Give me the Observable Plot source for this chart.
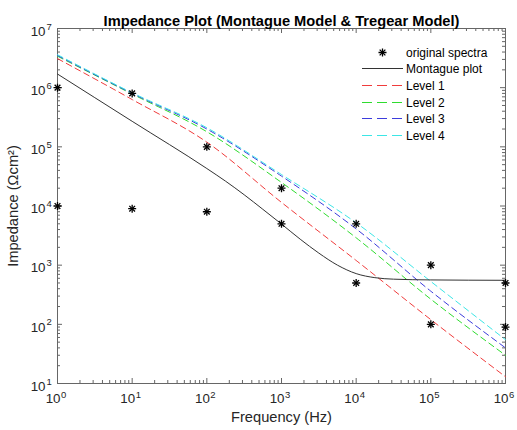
<!DOCTYPE html>
<html><head><meta charset="utf-8">
<script src="https://cdn.jsdelivr.net/npm/d3@7"></script>
<script src="https://cdn.jsdelivr.net/npm/@observablehq/plot@0.6"></script>
<style>body{margin:0;background:#fff} #chart{width:517px;height:430px}</style>
</head><body><div id="chart"></div>
<script>
// ---- data ----
const specFreq = [1, 1, 10, 10, 100, 100, 1000, 1000, 1e4, 1e4, 1e5, 1e5, 1e6, 1e6];
const specZ    = [1e6, 1e4, 8e5, 9e3, 1e5, 8e3, 2e4, 5e3, 5e3, 500, 1000, 100, 500, 90];

const montFreq = [1, 10, 100, 178, 316, 562, 1000, 1780, 3160, 5620, 1e4, 1.78e4, 3.16e4, 1e5, 1e6];
const montZ    = [1.7e6, 2.7e5, 4.3e4, 2.63e4, 1.55e4, 8.8e3, 4.95e3, 2.75e3, 1.6e3, 1.0e3, 720, 615, 580, 563, 555];

const levelFreq = [1, 10, 100, 1000, 1e4, 1e5, 1e6];
const level1 = [3.1e6, 6.3e5, 1.2e5, 1.15e4, 1.2e3, 120, 13];
const level2 = [3.4e6, 7.8e5, 1.8e5, 2.5e4, 2.9e3, 266, 30];
const level3 = [3.5e6, 8.0e5, 2.0e5, 3.2e4, 4.1e3, 363, 40];
const level4 = [3.6e6, 8.2e5, 2.1e5, 3.4e4, 5.2e3, 530, 55];
const levelNames = ["Level 1", "Level 2", "Level 3", "Level 4"];
const levelColors = ["#f03c3c", "#2fdc2f", "#3c3cdc", "#3ce6e6"];

const xTicks = [1, 10, 100, 1000, 1e4, 1e5, 1e6];
const xExps = ["0", "1", "2", "3", "4", "5", "6"];
const yTicks = [10, 100, 1000, 1e4, 1e5, 1e6, 1e7];
const yExps = ["1", "2", "3", "4", "5", "6", "7"];
const minorMult = [2, 3, 4, 5, 6, 7, 8, 9];

const legendLabels = ["original spectra", "Montague plot", "Level 1", "Level 2", "Level 3", "Level 4"];
const titleText = "Impedance Plot (Montague Model & Tregear Model)";
const xLabel = "Frequency (Hz)";
const yLabel = "Impedance (\u03A9cm\u00B2)";

// ---- layout ----
const W = 517, H = 430, mL = 57, mR = 12, mT = 28, mB = 47;
const fw = W - mL - mR, fh = H - mT - mB;
const axisColor = "#666";
const textColor = "#262626";
const FONT = "'Liberation Sans', Arial, sans-serif";

const spectra = specFreq.map((f, i) => ({f, z: specZ[i]}));
const mont = montFreq.map((f, i) => ({f, z: montZ[i]}));
const levels = [level1, level2, level3, level4].map(vals => levelFreq.map((f, j) => ({f, z: vals[j]})));
const xMinor = xTicks.slice(0, -1).flatMap(t => minorMult.map(m => m * t));
const yMinor = yTicks.slice(0, -1).flatMap(t => minorMult.map(m => m * t));

const marks = [
  Plot.frame({stroke: axisColor, strokeWidth: 1}),
  // major/minor ticks (inward, all four sides)
  Plot.tickX(xTicks, {x: d => d, insetTop: fh - 5, stroke: axisColor}),
  Plot.tickX(xTicks, {x: d => d, insetBottom: fh - 5, stroke: axisColor}),
  Plot.tickX(xMinor, {x: d => d, insetTop: fh - 3, stroke: axisColor}),
  Plot.tickX(xMinor, {x: d => d, insetBottom: fh - 3, stroke: axisColor}),
  Plot.tickY(yTicks, {y: d => d, insetRight: fw - 5, stroke: axisColor}),
  Plot.tickY(yTicks, {y: d => d, insetLeft: fw - 5, stroke: axisColor}),
  Plot.tickY(yMinor, {y: d => d, insetRight: fw - 3, stroke: axisColor}),
  Plot.tickY(yMinor, {y: d => d, insetLeft: fw - 3, stroke: axisColor}),
  // tick labels
  Plot.text(xTicks, {x: d => d, frameAnchor: "bottom", dy: 19, dx: 3, text: () => "10", textAnchor: "end", fontSize: 13.33, fill: textColor}),
  Plot.text(xTicks, {x: d => d, frameAnchor: "bottom", dy: 14, dx: 3.5, text: (d, i) => xExps[i], textAnchor: "start", fontSize: 9.5, fill: textColor}),
  Plot.text(yTicks, {y: d => d, frameAnchor: "left", dx: -12, dy: 3, text: () => "10", textAnchor: "end", fontSize: 13.33, fill: textColor}),
  Plot.text(yTicks, {y: d => d, frameAnchor: "left", dx: -11, dy: -2, text: (d, i) => yExps[i], textAnchor: "start", fontSize: 9.5, fill: textColor}),
  // titles
  Plot.text([titleText], {frameAnchor: "top", dy: -12.5, fontSize: 14.67, fontWeight: "bold", fill: "#000", textAnchor: "middle"}),
  Plot.text([xLabel], {frameAnchor: "bottom", dy: 38.5, fontSize: 14.67, fill: textColor, textAnchor: "middle"}),
  Plot.text([yLabel], {frameAnchor: "left", dx: -44.5, rotate: -90, fontSize: 14.67, fill: textColor, textAnchor: "middle"}),
  // data
  ...levels.map((lv, i) => Plot.line(lv, {x: "f", y: "z", stroke: levelColors[i], strokeWidth: 1, strokeDasharray: "6,4", curve: "monotone-x"})),
  Plot.line(mont, {x: "f", y: "z", stroke: "#333", strokeWidth: 1, curve: "monotone-x"}),
  Plot.dot(spectra, {x: "f", y: "z", symbol: "plus", r: 2.7, stroke: "#000", strokeWidth: 1.3}),
  Plot.dot(spectra, {x: "f", y: "z", symbol: "times", r: 2.7, stroke: "#000", strokeWidth: 1.3})
];

const svg = Plot.plot({
  width: W, height: H,
  marginLeft: mL, marginRight: mR, marginTop: mT, marginBottom: mB,
  x: {type: "log", domain: [1, 1e6], axis: null},
  y: {type: "log", domain: [10, 1e7], axis: null},
  style: {fontFamily: FONT, background: "white", overflow: "visible"},
  marks
});

// legend (no box), drawn into the same SVG
const lg = d3.select(svg).append("g")
  .attr("font-family", FONT).attr("font-size", 12).attr("text-anchor", "start");
const styles = [
  {marker: true},
  {stroke: "#333", dash: null},
  ...levelColors.map(c => ({stroke: c, dash: "10,5"}))
];
legendLabels.forEach((lab, i) => {
  const yy = Math.round(51.5 + i * 16.7) + 0.5;
  const s = styles[i];
  if (s.marker) {
    lg.append("path").attr("d", d3.symbol(d3.symbolPlus, 23)()).attr("transform", `translate(382.5,${yy})`).attr("stroke", "#000").attr("stroke-width", 1.3).attr("fill", "none");
    lg.append("path").attr("d", d3.symbol(d3.symbolTimes, 23)()).attr("transform", `translate(382.5,${yy})`).attr("stroke", "#000").attr("stroke-width", 1.3).attr("fill", "none");
  } else {
    const ln = lg.append("line").attr("x1", 362).attr("x2", 403).attr("y1", yy).attr("y2", yy).attr("stroke", s.stroke).attr("stroke-width", 1);
    if (s.dash) ln.attr("stroke-dasharray", s.dash);
  }
  lg.append("text").attr("x", 406).attr("y", yy).attr("dy", "0.35em").attr("fill", "#000").attr("text-anchor", "start").text(lab);
});

document.getElementById("chart").appendChild(svg);
</script>
</body></html>
